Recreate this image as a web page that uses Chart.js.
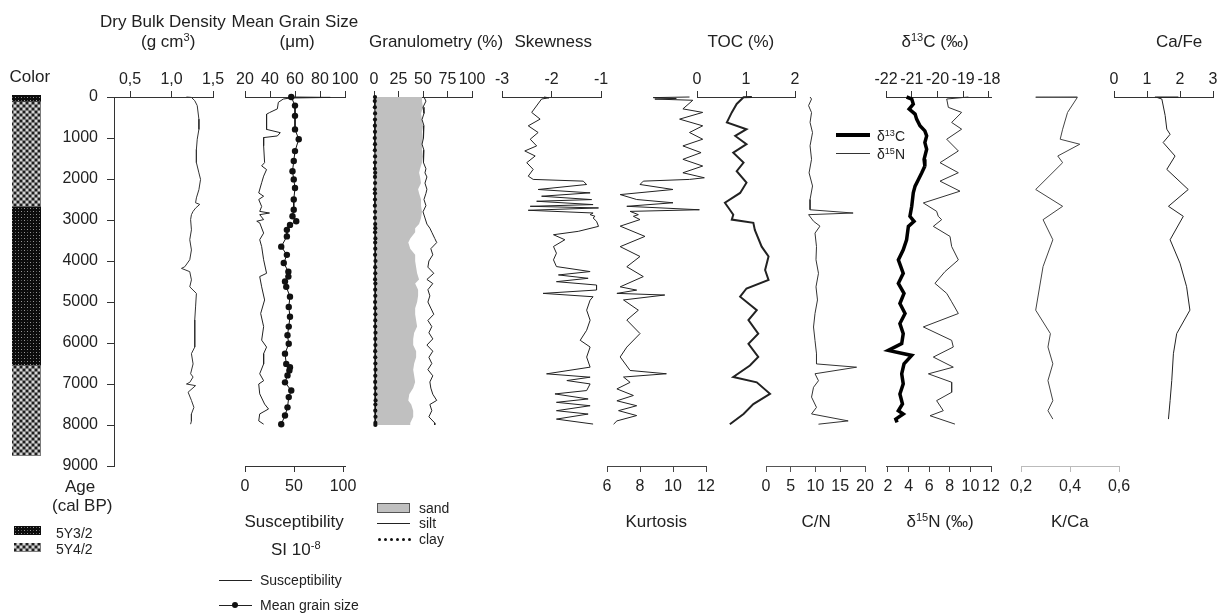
<!DOCTYPE html>
<html>
<head>
<meta charset="utf-8">
<title>Core profile</title>
<script src="https://cdn.jsdelivr.net/npm/chart.js@4.4.1/dist/chart.umd.min.js"></script>
<style>
  html, body { margin: 0; padding: 0; background: #fff; }
  #fig { position: relative; width: 1232px; height: 616px; overflow: hidden; font-family: "Liberation Sans", Arial, sans-serif; color: #222; }
  #fig canvas { position: absolute; top: 0; }
  .lbl { position: absolute; white-space: nowrap; line-height: 1.2; }
  .lbl sup { font-size: 0.65em; vertical-align: 0.5em; line-height: 0; }
  .sw { position: absolute; box-sizing: border-box; }
</style>
</head>
<body>
<div id="fig"></div>
<script>
// Age axis (cal BP)
const ageTicks = [0, 1000, 2000, 3000, 4000, 5000, 6000, 7000, 8000, 9000];

// Sediment colour column
const colorStart = [0, 150, 2700, 6550];
const colorEnd = [150, 2700, 6550, 8750];
const colorCodes = ['5Y3/2', '5Y4/2', '5Y3/2', '5Y4/2'];

// Dry bulk density
const dbdTicks = [0.5, 1.0, 1.5];
const dbdLabels = ['0,5', '1,0', '1,5'];
const dbdAge = [0, 10, 90, 210, 540, 790, 1030, 1280, 1600, 1850, 2010, 2260, 2460, 2580, 2620, 2710, 2790, 2870, 2990, 3240,
  3480, 3730, 3970, 4140, 4180, 4260, 4460, 4630, 4790, 5120, 5440, 5770, 6100, 6260, 6510, 6750, 6830, 6960, 7000, 7040,
  7200, 7400, 7570, 7730, 7900, 7980];
const dbd = [1.18, 1.24, 1.28, 1.31, 1.33, 1.33, 1.31, 1.30, 1.30, 1.33, 1.35, 1.33, 1.30, 1.29, 1.34, 1.29, 1.26, 1.24, 1.23, 1.24,
  1.22, 1.24, 1.22, 1.16, 1.12, 1.22, 1.24, 1.22, 1.30, 1.29, 1.28, 1.28, 1.28, 1.24, 1.26, 1.23, 1.26, 1.22, 1.18, 1.29,
  1.20, 1.24, 1.27, 1.24, 1.24, 1.23];

// Mean grain size (um) and magnetic susceptibility
const mgsTicks = [20, 40, 60, 80, 100];
const mgsAge = [0, 210, 460, 790, 1030, 1320, 1560, 1810, 2010, 2220, 2500, 2750, 2910, 3030, 3120, 3240, 3400, 3650, 3850, 4050,
  4260, 4380, 4500, 4630, 4870, 5120, 5360, 5600, 5810, 6020, 6260, 6510, 6590, 6670, 6790, 6960, 7160, 7320, 7570, 7770, 7980];
const mgs = [57, 60, 60, 60, 63, 60, 59, 58, 59, 60, 59, 59, 58, 61, 56, 53.5, 53.5, 49, 53.5, 51,
  54.7, 54.7, 52, 53, 56, 55, 56, 55, 54, 55, 52, 53, 56, 55.5, 54, 52, 57, 55, 54, 52, 49];
const suscTicks = [0, 50, 100];
const suscAge = [0, 10, 25, 50, 130, 290, 380, 420, 790, 870, 950, 990, 1190, 1600, 1680, 1770, 1930, 2090, 2340, 2420,
  2500, 2670, 2790, 2830, 2870, 2990, 3030, 3070, 3320, 3480, 3650, 3970, 4300, 4380, 4630, 4950, 5280, 5600, 5930, 6100,
  6260, 6510, 6750, 6920, 7000, 7240, 7490, 7610, 7730, 7900, 7980];
const susc = [48, 87, 46, 39, 34, 33, 25, 22, 22, 36, 33, 19, 19, 20, 17, 22, 19, 17, 14, 19,
  14, 17, 15, 25, 15, 19, 12, 15, 19, 15, 17, 19, 22, 15, 17, 20, 16, 19, 17, 22,
  19, 19, 15, 19, 14, 15, 20, 24, 15, 14, 19];

// Granulometry (%)
const granTicks = [0, 25, 50, 75, 100];
const granAge = [0, 100, 250, 400, 550, 700, 850, 1000, 1150, 1300, 1450, 1600, 1750, 1850, 1950, 2100, 2250, 2350, 2500, 2650,
  2800, 2950, 3100, 3200, 3300, 3450, 3550, 3700, 3850, 4000, 4150, 4300, 4450, 4550, 4700, 4850, 5000, 5150, 5300, 5450,
  5600, 5750, 5900, 6050, 6200, 6350, 6500, 6650, 6800, 6950, 7100, 7250, 7400, 7500, 7650, 7800, 7950, 8000];
const sand = [49, 49, 50, 48, 49, 50, 49, 50, 49, 49, 50, 49, 47, 46, 47, 48, 45, 46, 48, 48,
  49, 48, 46, 42, 42, 37, 35, 37, 42, 42, 43, 44, 46, 42, 45, 45, 44, 42, 42, 43,
  44, 41, 40, 40, 43, 43, 41, 40, 41, 42, 40, 36, 35, 38, 40, 40, 37, 37];
const silt = [51, 53, 50, 51, 49, 51, 50, 51, 49, 51, 50, 51, 53, 52, 54, 52, 54, 53, 51, 53,
  50, 52, 54, 57, 59, 62, 64, 58, 60, 56, 55, 61, 54, 60, 55, 57, 55, 58, 61, 55,
  59, 56, 60, 54, 60, 56, 59, 55, 60, 57, 58, 60, 64, 57, 59, 56, 62, 62];
const clay = [1.0, 0.8, 0.9, 1.1, 1.0, 0.9, 1.0, 0.8, 1.0, 0.9, 1.1, 1.0, 0.9, 1.2, 1.0, 1.1, 0.9, 1.0, 1.0, 0.9,
  1.1, 1.0, 1.2, 1.3, 1.1, 1.4, 1.2, 1.3, 1.1, 1.5, 1.2, 1.3, 1.1, 1.4, 1.2, 1.3, 1.1, 1.2, 1.4, 1.3,
  1.2, 1.5, 1.3, 1.4, 1.2, 1.3, 1.4, 1.5, 1.3, 1.2, 1.4, 1.5, 1.6, 1.4, 1.3, 1.5, 1.4, 1.4];

// Skewness and kurtosis
const skewTicks = [-3, -2, -1];
const skewAge = [0, 20, 49, 376, 540, 703, 866, 1030, 1193, 1316, 1439, 1602, 1766, 1930, 2010, 2052, 2134, 2256, 2338, 2420,
  2502, 2543, 2624, 2666, 2706, 2763, 2829, 2869, 2910, 2950, 3032, 3155, 3277, 3359, 3482, 3646, 3810, 3972, 4136, 4258,
  4340, 4422, 4504, 4586, 4708, 4790, 4872, 4954, 5199, 5444, 5690, 5934, 6098, 6343, 6589, 6752, 6834, 6916, 6998, 7160,
  7242, 7365, 7447, 7530, 7651, 7733, 7856, 7977];
const skew = [-2.15, -2.05, -2.20, -2.40, -2.23, -2.47, -2.27, -2.43, -2.30, -2.54, -2.33, -2.50, -2.37, -2.47, -2.37, -1.36, -1.29, -2.27, -1.22, -2.20,
  -1.19, -2.30, -1.16, -2.43, -1.05, -2.47, -1.16, -1.22, -1.12, -1.16, -1.09, -1.05, -1.46, -1.96, -1.73, -1.96, -1.90, -1.96, -1.90, -1.22,
  -1.86, -1.26, -1.90, -1.09, -1.09, -2.17, -1.16, -1.22, -1.29, -1.22, -1.29, -1.42, -1.22, -1.29, -1.22, -2.10, -1.22, -1.69, -1.22, -1.29,
  -1.93, -1.26, -1.90, -1.22, -1.90, -1.26, -1.90, -1.16];
const kurtTicks = [6, 8, 10, 12];
const kurtAge = [0, 15, 35, 50, 80, 290, 376, 540, 703, 866, 1030, 1193, 1357, 1520, 1684, 1848, 1970, 2010, 2052, 2134,
  2256, 2380, 2500, 2580, 2666, 2750, 2790, 2870, 2910, 2990, 3150, 3400, 3650, 3890, 4140, 4380, 4630, 4710, 4790, 4830,
  4950, 5200, 5440, 5770, 6100, 6340, 6670, 6750, 6830, 6960, 7120, 7280, 7410, 7530, 7650, 7770, 7900, 7980];
const kurt = [11.0, 8.8, 10.2, 8.9, 11.2, 10.6, 11.8, 10.4, 11.8, 11.0, 11.8, 10.6, 11.7, 10.6, 11.8, 10.6, 11.9, 11.0, 8.2, 8.0,
  10.0, 6.8, 7.8, 10.0, 7.2, 11.6, 7.4, 7.9, 7.6, 8.0, 6.8, 8.3, 6.8, 8.0, 7.2, 8.2, 6.8, 7.8, 6.6, 9.5,
  7.0, 7.9, 7.2, 8.0, 7.2, 6.8, 7.4, 9.6, 7.0, 7.4, 6.6, 7.6, 6.6, 7.8, 6.7, 7.8, 6.6, 6.4];

// TOC (%) and C/N
const tocTicks = [0, 1, 2];
const tocAge = [0, 8, 170, 376, 620, 785, 950, 1150, 1360, 1600, 1810, 2090, 2340, 2580, 2750, 2870, 2990, 3070, 3240, 3650,
  3890, 4220, 4460, 4670, 4870, 5200, 5440, 5770, 6020, 6340, 6550, 6830, 6960, 7240, 7490, 7730, 7980];
const toc = [1.12, 0.95, 0.81, 0.71, 0.61, 1.01, 0.78, 1.01, 0.74, 0.95, 0.81, 1.01, 0.88, 0.57, 0.67, 0.74, 0.71, 1.15, 1.18, 1.32,
  1.46, 1.39, 1.46, 1.01, 0.88, 1.22, 1.05, 1.25, 1.05, 1.25, 1.08, 0.74, 1.22, 1.49, 1.15, 0.95, 0.67];
const cnTicks = [0, 5, 10, 15, 20];
const cnAge = [0, 50, 210, 380, 620, 870, 1190, 1520, 1850, 2170, 2500, 2750, 2830, 2870, 3030, 3150, 3320, 3650, 3970, 4300,
  4630, 4950, 5280, 5610, 5940, 6260, 6510, 6590, 6750, 6920, 7080, 7320, 7570, 7730, 7900, 7980];
const cn = [8.9, 9.2, 8.6, 9.2, 8.9, 9.4, 8.9, 9.2, 8.7, 9.4, 8.9, 8.9, 17.6, 8.6, 9.6, 10.9, 9.9, 10.2, 10.1, 10.6,
  10.1, 10.4, 9.9, 9.6, 9.9, 10.2, 10.2, 18.3, 9.9, 10.6, 9.6, 9.2, 10.2, 9.2, 16.6, 10.6];

// Stable isotopes
const d13cTicks = [-22, -21, -20, -19, -18];
const d13cAge = [0, 49, 172, 294, 417, 540, 703, 826, 948, 1112, 1275, 1520, 1684, 1847, 2010, 2174, 2338, 2666, 2910, 3032,
  3155, 3482, 3728, 3973, 4300, 4545, 4790, 5036, 5281, 5526, 5771, 6016, 6180, 6303, 6507, 6752, 6998, 7243, 7488, 7652,
  7733, 7856, 7938];
const d13c = [-21.20, -21.00, -20.94, -21.10, -20.87, -20.81, -20.68, -20.49, -20.42, -20.49, -20.42, -20.52, -20.49, -20.61, -20.74, -20.87, -20.94, -21.00, -21.07, -20.91,
  -21.13, -21.20, -21.33, -21.52, -21.33, -21.52, -21.30, -21.46, -21.26, -21.46, -21.33, -21.39, -21.91, -21.00, -21.30, -21.39, -21.33, -21.46, -21.36, -21.52,
  -21.33, -21.62, -21.57];
const d15nTicks = [2, 4, 6, 8, 10, 12];
const d15nAge = [0, 49, 253, 376, 621, 785, 1030, 1316, 1602, 1847, 2052, 2297, 2584, 2788, 2910, 2992, 3155, 3400, 3646, 3973,
  4259, 4545, 4790, 4995, 5281, 5608, 5935, 6098, 6343, 6589, 6752, 6957, 7202, 7406, 7651, 7774, 7978];
const d15n = [9.80, 7.70, 7.86, 9.15, 8.18, 9.15, 7.70, 8.83, 7.05, 8.83, 7.05, 8.99, 5.43, 6.72, 6.88, 7.21, 6.40, 8.02, 8.18, 8.83,
  7.53, 6.56, 7.70, 8.18, 8.83, 5.43, 8.18, 8.34, 6.40, 8.34, 5.92, 8.18, 8.18, 6.72, 7.37, 6.08, 8.50];

// XRF ratios
const kcaTicks = [0.2, 0.4, 0.6];
const kcaLabels = ['0,2', '0,4', '0,6'];
const kcaAge = [0, 5, 10, 376, 785, 1030, 1152, 1439, 1602, 2256, 2666, 2992, 3482, 4136, 5199, 5771, 6098, 6507, 6916, 7406, 7651, 7856];
const kca = [0.43, 0.26, 0.43, 0.39, 0.37, 0.36, 0.44, 0.35, 0.37, 0.26, 0.37, 0.29, 0.33, 0.29, 0.26, 0.32, 0.31, 0.33, 0.31, 0.33, 0.31, 0.33];
const cafeTicks = [0, 1, 2, 3];
const cafeAge = [0, 5, 10, 50, 450, 785, 910, 1110, 1440, 1766, 2256, 2666, 2910, 3482, 4054, 4627, 5199, 5771, 6262, 6916, 7406, 7856];
const cafe = [1.24, 1.95, 1.30, 1.45, 1.55, 1.60, 1.70, 1.49, 1.85, 1.60, 2.25, 1.65, 2.10, 1.70, 2.00, 2.20, 2.30, 1.90, 1.80, 1.75, 1.70, 1.65];

// ---------- layout ----------
const W = 1232, H = 616;
const TOP = 97, BOTTOM = 466, AX_H = 40, PAD = 34;
const FONT = '"Liberation Sans", Arial, sans-serif';
const INK = '#222';
const fig = document.getElementById('fig');

const pts = (ages, vals) => ages.map((a, i) => ({ x: vals[i], y: a }));

// small repeating fills for the colour column
function pattern(dark) {
  const c = document.createElement('canvas');
  c.width = 6; c.height = 6;
  const g = c.getContext('2d');
  if (dark) {
    g.fillStyle = '#0c0c0c'; g.fillRect(0, 0, 6, 6);
    g.fillStyle = '#9a9a9a'; g.fillRect(1, 1, 1, 1); g.fillRect(4, 4, 1, 1);
    g.fillStyle = '#555'; g.fillRect(4, 1, 1, 1); g.fillRect(1, 4, 1, 1);
  } else {
    g.fillStyle = '#7c7c7c'; g.fillRect(0, 0, 6, 6);
    g.fillStyle = '#1e1e1e'; g.fillRect(0, 0, 2, 2); g.fillRect(3, 3, 2, 2);
    g.fillStyle = '#d4d4d4'; g.fillRect(3, 0, 2, 2); g.fillRect(0, 3, 2, 2);
  }
  return g.createPattern(c, 'repeat');
}
const fills = { '5Y3/2': pattern(true), '5Y4/2': pattern(false) };

function axis(position, min, max, ticks, labels, color) {
  const col = color || '#333';
  return {
    type: 'linear', position, min, max,
    afterBuildTicks: s => { s.ticks = ticks.map(v => ({ value: v })); },
    afterFit: s => { s.height = AX_H; },
    ticks: {
      autoSkip: false, maxRotation: 0, color: INK, padding: position === 'top' ? 2 : 5,
      font: { size: 16, family: FONT },
      callback: (v, i) => labels ? labels[i] : String(ticks[i])
    },
    grid: { drawOnChartArea: false, drawTicks: true, tickLength: 6, color: col },
    border: { display: true, color: col, width: 1 }
  };
}

function panel(left, right, scales, datasets, yAxis) {
  const cv = document.createElement('canvas');
  const padL = yAxis ? 0 : PAD;
  const x0 = yAxis ? 0 : left - PAD;
  cv.width = right - x0 + PAD;
  cv.height = H;
  cv.style.left = x0 + 'px';
  fig.appendChild(cv);
  const list = Object.values(scales);
  const hasTop = list.some(s => s.position === 'top');
  const hasBottom = list.some(s => s.position === 'bottom');
  const y = yAxis || { type: 'linear', reverse: true, min: 0, max: 9000, display: false };
  return new Chart(cv, {
    type: 'line',
    data: { datasets },
    options: {
      responsive: false, animation: false, indexAxis: 'y',
      layout: { padding: { left: padL, right: PAD, top: hasTop ? TOP - AX_H : TOP, bottom: hasBottom ? H - BOTTOM - AX_H : H - BOTTOM } },
      plugins: { legend: { display: false }, tooltip: { enabled: false } },
      elements: { point: { radius: 0 }, line: { tension: 0 } },
      scales: Object.assign({ y }, scales)
    }
  });
}

function line(data, xAxisID, width, color, extra) {
  return Object.assign({ data, xAxisID, yAxisID: 'y', borderColor: color || INK, borderWidth: width || 1, pointRadius: 0, fill: false, clip: false, order: 0 }, extra || {});
}

// colour column (floating bars)
(function () {
  const cv = document.createElement('canvas');
  cv.width = 41 - 12 + 2 * PAD; cv.height = H;
  cv.style.left = (12 - PAD) + 'px';
  fig.appendChild(cv);
  new Chart(cv, {
    type: 'bar',
    data: {
      labels: ['Color'],
      datasets: colorCodes.map((c, i) => ({
        data: [[colorStart[i], colorEnd[i]]], backgroundColor: fills[c], borderWidth: 0,
        grouped: false, barPercentage: 1, categoryPercentage: 1
      }))
    },
    options: {
      responsive: false, animation: false,
      layout: { padding: { left: PAD, right: PAD, top: TOP - 2, bottom: H - BOTTOM } },
      plugins: { legend: { display: false }, tooltip: { enabled: false } },
      scales: {
        x: { type: 'category', display: false },
        y: { type: 'linear', reverse: true, min: 0, max: 9000, display: false }
      }
    }
  });
})();

// age axis + dry bulk density
panel(114, 213, { x: axis('top', 0.307, 1.5, dbdTicks, dbdLabels) },
  [line(pts(dbdAge, dbd), 'x', 1, '#333')],
  {
    type: 'linear', position: 'left', reverse: true, min: 0, max: 9000,
    afterBuildTicks: s => { s.ticks = ageTicks.map(v => ({ value: v })); },
    afterFit: s => { s.width = 114; },
    ticks: { color: INK, padding: 9, font: { size: 16, family: FONT }, callback: v => String(v) },
    grid: { drawOnChartArea: false, drawTicks: true, tickLength: 7, color: '#333' },
    border: { display: true, color: '#333', width: 1 }
  });

// mean grain size (top) + susceptibility (bottom)
panel(245, 345, { xt: axis('top', 20, 100, mgsTicks), xb: axis('bottom', 0, 102, suscTicks) }, [
  line(pts(mgsAge, mgs), 'xt', 1, '#111', { pointRadius: 3.2, pointBackgroundColor: '#111', pointBorderWidth: 0 }),
  line(pts(suscAge, susc), 'xb', 1, '#222', { order: 1 })
]);

// granulometry (sand filled behind silt and clay)
panel(374, 472, { x: axis('top', 0, 100, granTicks) }, [
  line(pts(granAge, clay), 'x', 1, '#111', { pointRadius: 2.1, pointBackgroundColor: '#111', pointBorderWidth: 0 }),
  line(pts(granAge, silt), 'x', 1, '#222', { order: 1 }),
  line(pts(granAge, sand), 'x', 0, 'rgba(0,0,0,0)', { fill: { value: 0 }, backgroundColor: '#c0c0c0', order: 2 })
]);

// skewness
panel(502, 601, { x: axis('top', -3, -1, skewTicks) }, [line(pts(skewAge, skew), 'x', 1, '#222')]);

// kurtosis
panel(607, 706, { x: axis('bottom', 6, 12, kurtTicks, null, '#444') }, [line(pts(kurtAge, kurt), 'x', 1, '#222')]);

// TOC
panel(697, 795, { x: axis('top', 0, 2, tocTicks) }, [line(pts(tocAge, toc), 'x', 2, '#222')]);

// C/N
panel(766, 865, { x: axis('bottom', 0, 20, cnTicks, null, '#555') }, [line(pts(cnAge, cn), 'x', 1, '#333')]);

// d13C (top) + d15N (bottom)
panel(886, 991, { xt: axis('top', -22, -17.92, d13cTicks), xb: axis('bottom', 1.806, 12, d15nTicks, null, '#444') }, [
  line(pts(d13cAge, d13c), 'xt', 3.5, '#000'),
  line(pts(d15nAge, d15n), 'xb', 1, '#333', { order: 1 })
]);

// K/Ca
panel(1021, 1119, { x: axis('bottom', 0.2, 0.6, kcaTicks, kcaLabels, '#bbb') }, [line(pts(kcaAge, kca), 'x', 1, '#444')]);

// Ca/Fe
panel(1114, 1213, { x: axis('top', 0, 3, cafeTicks) }, [line(pts(cafeAge, cafe), 'x', 1, '#222')]);

// ---------- texts and legends ----------
function label(html, x, base, size, align) {
  const el = document.createElement('div');
  el.className = 'lbl';
  el.innerHTML = html;
  el.style.fontSize = size + 'px';
  el.style.top = (base - 0.93 * size) + 'px';
  fig.appendChild(el);
  const w = el.offsetWidth;
  el.style.left = (align === 'start' ? x : align === 'end' ? x - w : x - w / 2) + 'px';
}
function swatch(x, y, w, h, css) {
  const d = document.createElement('div');
  d.className = 'sw';
  d.style.cssText = `left:${x}px;top:${y}px;width:${w}px;height:${h}px;${css}`;
  fig.appendChild(d);
}
function patchSwatch(x, y, w, h, code) {
  const c = document.createElement('canvas');
  c.width = w; c.height = h;
  c.style.left = x + 'px'; c.style.top = y + 'px';
  const g = c.getContext('2d');
  g.fillStyle = fills[code]; g.fillRect(0, 0, w, h);
  fig.appendChild(c);
}

label('Dry Bulk Density', 163, 28, 17);
label('(g cm<sup>3</sup>)', 168, 48, 17);
label('Mean Grain Size', 295, 28, 17);
label('(\u03BCm)', 297, 48, 17);
label('Granulometry (%)', 436, 48, 17);
label('Skewness', 553, 48, 17);
label('TOC (%)', 741, 48, 17);
label('\u03B4<sup>13</sup>C (\u2030)', 935, 48, 17);
label('Ca/Fe', 1179, 48, 17);
label('Color', 30, 83, 17);

label('Age', 80, 493, 17);
label('(cal BP)', 82, 512, 17);
label('Susceptibility', 294, 528, 17);
label('SI 10<sup>-8</sup>', 296, 556, 17);
label('Kurtosis', 656, 528, 17);
label('C/N', 816, 528, 17);
label('\u03B4<sup>15</sup>N (\u2030)', 940, 528, 17);
label('K/Ca', 1070, 528, 17);

// granulometry legend
swatch(377, 503, 33, 10, 'background:#c0c0c0;border:1px solid #555;');
swatch(377, 523, 33, 1, 'background:#222;');
for (let i = 0; i < 6; i++) swatch(378 + i * 6, 538, 3, 3, 'background:#111;border-radius:50%;');
label('sand', 419, 513, 14, 'start');
label('silt', 419, 528, 14, 'start');
label('clay', 419, 544, 14, 'start');

// susceptibility / grain size legend
swatch(219, 580, 33, 1, 'background:#222;');
swatch(219, 605, 33, 1, 'background:#222;');
swatch(232, 602, 6, 6, 'background:#111;border-radius:50%;');
label('Susceptibility', 260, 585, 14, 'start');
label('Mean grain size', 260, 610, 14, 'start');

// colour legend
patchSwatch(14, 526, 27, 9, '5Y3/2');
patchSwatch(14, 543, 27, 9, '5Y4/2');
label('5Y3/2', 56, 538, 14, 'start');
label('5Y4/2', 56, 554, 14, 'start');

// isotope legend
swatch(836, 133, 34, 4, 'background:#000;');
swatch(836, 153, 34, 1, 'background:#333;');
label('\u03B4<sup>13</sup>C', 877, 141, 14, 'start');
label('\u03B4<sup>15</sup>N', 877, 159, 14, 'start');
</script>
</body>
</html>
